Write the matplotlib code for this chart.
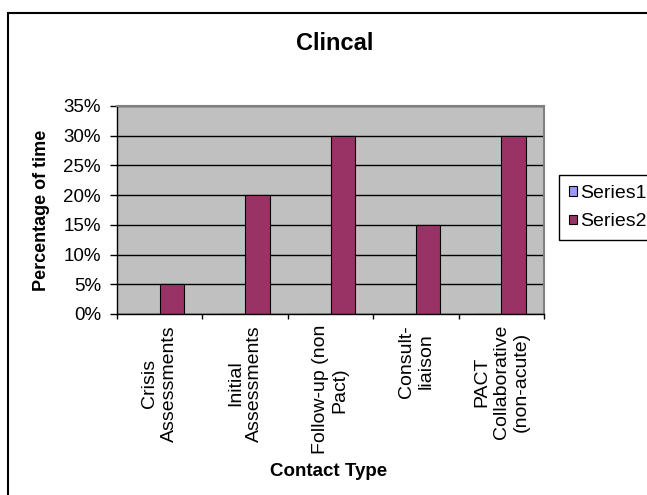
import numpy as np
import matplotlib
matplotlib.use("Agg")
from matplotlib import pyplot as plt
from matplotlib.patches import Rectangle
from matplotlib.ticker import PercentFormatter, FixedLocator

categories = ["Crisis\nAssessments", "Initial\nAssessments", "Follow-up (non\nPact)",
              "Consult-\nliaison", "PACT\nCollaborative\n(non-acute)"]
series_names = ["Series1", "Series2"]
series1 = [0.0, 0.0, 0.0, 0.0, 0.0]
series2 = [0.05, 0.20, 0.30, 0.15, 0.30]

plt.rcParams["font.family"] = ["Liberation Sans", "DejaVu Sans"]

W, H = 647, 495
fig = plt.figure(figsize=(W / 100, H / 100), dpi=100, facecolor="white")

# plot area in pixel terms (left, top, right, bottom)
pl, pt, pr, pb = 117, 106, 544, 314
ax = fig.add_axes([pl / W, 1 - pb / H, (pr - pl) / W, (pb - pt) / H])
ax.set_facecolor("#C0C0C0")

x = np.arange(len(categories))
bw = 1 / 3.5
ax.bar(x - bw / 2, series1, width=bw, color="#9999FF", edgecolor="black", linewidth=0.8,
       label=series_names[0], zorder=2)
ax.bar(x + bw / 2, series2, width=bw, color="#993366", edgecolor="black", linewidth=0.8,
       label=series_names[1], zorder=2)

ax.set_xlim(-0.5, len(categories) - 0.5)
ax.set_ylim(0, 0.35)
ax.set_yticks(np.arange(0, 0.351, 0.05))
ax.yaxis.set_major_formatter(PercentFormatter(xmax=1, decimals=0))
ax.set_axisbelow(True)
ax.yaxis.grid(True, color="black", linewidth=1.0)

# ticks at category boundaries, labels at category centres
ax.xaxis.set_major_locator(FixedLocator(np.arange(len(categories) + 1) - 0.5))
ax.xaxis.set_minor_locator(FixedLocator(x))
ax.set_xticklabels([""] * (len(categories) + 1))
ax.set_xticklabels(categories, minor=True, rotation=90, multialignment="center",
                   fontsize=14, linespacing=1.2)
ax.tick_params(axis="x", which="major", direction="out", length=3.6, width=1, color="black")
ax.tick_params(axis="x", which="minor", length=0, pad=8)
ax.tick_params(axis="y", direction="out", length=5, width=1, pad=6.5, labelsize=13.5)

for side in ("top", "right"):
    ax.spines[side].set_color("#808080")
    ax.spines[side].set_linewidth(1.5)
for side in ("left", "bottom"):
    ax.spines[side].set_color("black")
    ax.spines[side].set_linewidth(1.0)

ax.set_ylabel("Percentage of time", fontsize=13, fontweight="bold", va="center")
ax.yaxis.set_label_coords((42 - pl) / (pr - pl), 0.5)
ax.set_xlabel("Contact Type", fontsize=13.5, fontweight="bold", va="center")
ax.xaxis.set_label_coords((329 - pl) / (pr - pl), (pb - 472) / (pb - pt))

fig.suptitle("Clincal", x=335 / W, y=1 - 44 / H, va="center", fontsize=17, fontweight="bold")

fig.legend(loc="upper left", bbox_to_anchor=(559 / W, 1 - 175 / H), borderaxespad=0,
           fontsize=14, frameon=True, fancybox=False, framealpha=1, edgecolor="black",
           handlelength=0.4, handleheight=0.4, handletextpad=0.2, borderpad=0.5,
           labelspacing=0.6)
fig.legends[0].get_frame().set_linewidth(1.0)

# chart border running off the right and bottom edges
fig.patches.append(Rectangle((8 / W, -0.1), 1.2, 1.1 - 13 / H, transform=fig.transFigure,
                             fill=False, edgecolor="black", linewidth=1.5))

fig.savefig("out.png", dpi=100)
